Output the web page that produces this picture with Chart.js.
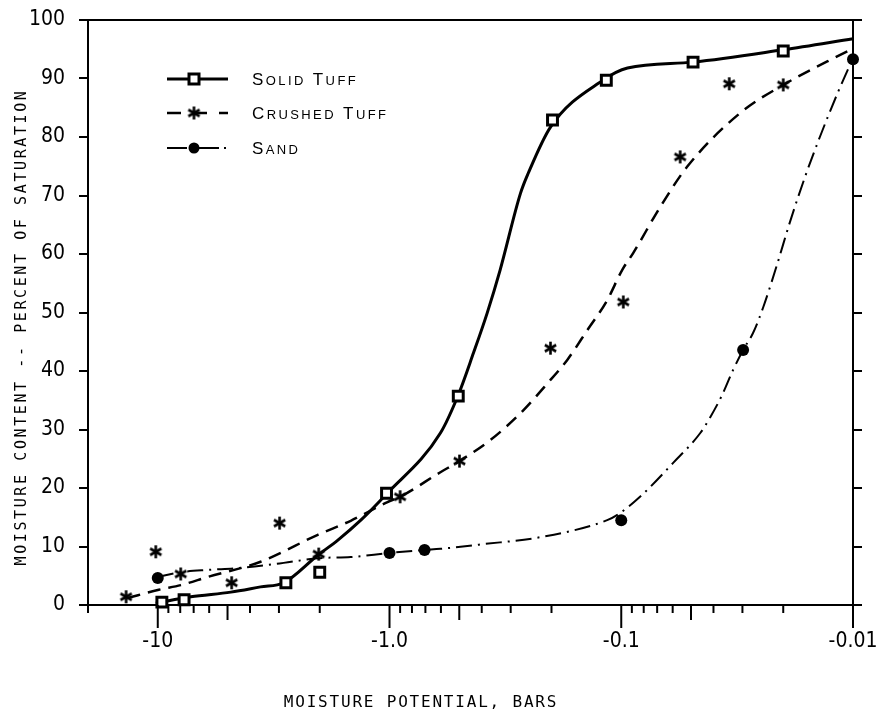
<!DOCTYPE html>
<html>
<head>
<meta charset="utf-8">
<script src="https://cdn.jsdelivr.net/npm/chart.js@4/dist/chart.umd.min.js"></script>
<style>
  html, body { margin: 0; padding: 0; background: #fff; }
  #wrap { width: 888px; height: 715px; position: relative; }
</style>
</head>
<body>
<div id="wrap"><canvas id="chart"></canvas></div>
<script>
// measured points (moisture potential in bars, moisture content in % of saturation)
const solidPotential = [-9.6, -7.7, -2.8, -2.0, -1.03, -0.505, -0.198, -0.116, -0.049, -0.020];
const solidMoisture  = [0.5, 0.9, 3.8, 5.6, 19.1, 35.7, 82.9, 89.7, 92.8, 94.7];

const crushedPotential = [-13.7, -10.2, -7.96, -4.8, -2.98, -2.02, -0.90, -0.499, -0.202, -0.098, -0.0557, -0.0342, -0.020];
const crushedMoisture  = [1.4, 9.1, 5.3, 3.8, 14.0, 8.7, 18.5, 24.6, 43.9, 51.8, 76.6, 89.1, 88.9];

const sandPotential = [-10, -1.0, -0.706, -0.1, -0.0298, -0.01];
const sandMoisture  = [4.6, 8.9, 9.4, 14.5, 43.6, 93.3];

// hand-fitted curves
const solidCurvePotential = [-10.2, -7.2, -4.84, -3.6, -2.86, -2.04, -1.67, -1.33, -1.04, -0.603, -0.505, -0.434, -0.379, -0.333, -0.272, -0.252, -0.202, -0.120, -0.094, -0.049, -0.020, -0.01];
const solidCurveMoisture  = [0.3, 1.4, 2.2, 3.1, 3.8, 8.5, 11.1, 14.5, 18.8, 29.4, 35.9, 43.1, 49.9, 57.3, 70.4, 73.8, 81.7, 89.7, 91.8, 92.8, 94.9, 96.8];

const crushedCurvePotential = [-13.5, -9.9, -7.96, -6.08, -3.6, -2.04, -1.47, -1.02, -0.90, -0.603, -0.499, -0.367, -0.272, -0.208, -0.171, -0.140, -0.115, -0.099, -0.0887, -0.068, -0.052, -0.0307, -0.020, -0.0103];
const crushedCurveMoisture  = [1.2, 2.6, 3.4, 4.8, 7.4, 12.0, 14.4, 17.6, 18.5, 22.7, 24.6, 28.2, 32.8, 37.9, 41.9, 47.0, 52.1, 57.3, 60.2, 68.0, 74.9, 84.1, 88.9, 94.9];

const sandCurvePotential = [-10, -7.96, -6.08, -4.52, -2.86, -2.04, -1.47, -1.0, -0.713, -0.603, -0.394, -0.223, -0.115, -0.104, -0.083, -0.0597, -0.0456, -0.0413, -0.0367, -0.0329, -0.0298, -0.027, -0.0244, -0.0213, -0.0187, -0.0161, -0.0139, -0.0116, -0.01];
const sandCurveMoisture  = [4.8, 5.6, 6.0, 6.3, 7.2, 8.0, 8.2, 8.9, 9.4, 9.6, 10.4, 11.6, 14.5, 15.4, 18.5, 24.3, 29.4, 32.1, 35.9, 40.2, 43.6, 46.5, 50.9, 58.1, 65.5, 73.2, 80.0, 87.7, 93.5];

const seriesNames = ['Solid Tuff', 'Crushed Tuff', 'Sand'];

// x axis ticks
const xTicks = [-20, -10, -9, -8, -7, -6, -5, -4, -3, -2, -1, -0.9, -0.8, -0.7, -0.6, -0.5, -0.4, -0.3, -0.2,
  -0.1, -0.09, -0.08, -0.07, -0.06, -0.05, -0.04, -0.03, -0.02, -0.01];
const xDecades = [-10, -1, -0.1, -0.01];
const xDecadeLabels = ['-10', '-1.0', '-0.1', '-0.01'];
const yTicks = [0, 10, 20, 30, 40, 50, 60, 70, 80, 90, 100];

const xTitle = 'MOISTURE POTENTIAL, BARS';
const yTitle = 'MOISTURE CONTENT -- PERCENT OF SATURATION';

const toPts = (xs, ys) => xs.map((x, i) => ({ x: -x, y: ys[i] }));

// six-armed asterisk marker
function asterisk(size, lw) {
  const c = document.createElement('canvas');
  c.width = size; c.height = size;
  const g = c.getContext('2d');
  const r = size / 2 - 1;
  g.strokeStyle = '#000';
  g.lineWidth = lw;
  [90, 30, 150].forEach(a => {
    const t = a * Math.PI / 180;
    g.beginPath();
    g.moveTo(size / 2 - r * Math.cos(t), size / 2 - r * Math.sin(t));
    g.lineTo(size / 2 + r * Math.cos(t), size / 2 + r * Math.sin(t));
    g.stroke();
  });
  return c;
}
const star = asterisk(15, 2.6);

const tickFont = { family: "'DejaVu Sans Condensed', 'Liberation Sans Narrow', sans-serif", size: 21 };

const frameAndText = {
  id: 'frameAndText',
  afterDraw(chart) {
    const { ctx, chartArea: a, scales } = chart;
    const xs = scales.x;
    ctx.save();
    ctx.strokeStyle = '#000';
    ctx.fillStyle = '#000';

    // top edge
    ctx.lineWidth = 2;
    ctx.beginPath();
    ctx.moveTo(a.left - 1, a.top);
    ctx.lineTo(a.right + 1, a.top);
    ctx.stroke();

    // x tick marks: long at decades, medium at 5s, short otherwise
    xTicks.forEach(v => {
      const px = xs.getPixelForValue(-v);
      const m = Math.round(-v / Math.pow(10, Math.floor(Math.log10(-v) + 1e-9)));
      const len = m === 1 && v !== -20 ? 23 : (m === 5 ? 15 : 8);
      ctx.beginPath();
      ctx.moveTo(px, a.bottom);
      ctx.lineTo(px, a.bottom + len);
      ctx.stroke();
    });

    // axis titles
    ctx.font = "16px 'DejaVu Sans Mono', monospace";
    ctx.letterSpacing = '1.8px';
    ctx.textAlign = 'center';
    ctx.textBaseline = 'middle';
    ctx.fillText(xTitle, 421, 703);

    ctx.save();
    ctx.translate(22, 327);
    ctx.rotate(-Math.PI / 2);
    ctx.font = "15px 'DejaVu Sans Mono', monospace";
    ctx.letterSpacing = '2.6px';
    ctx.fillText(yTitle, 0, 0);
    ctx.restore();

    // legend
    ctx.letterSpacing = '0px';
    const rows = [79, 113, 148];
    const sx0 = 167, sx1 = 228, mx = 194;
    rows.forEach((y, i) => {
      ctx.beginPath();
      if (i === 0) {
        ctx.lineWidth = 3;
        ctx.setLineDash([]);
      } else if (i === 1) {
        ctx.lineWidth = 2.5;
        ctx.setLineDash([14, 12]);
      } else {
        ctx.lineWidth = 2;
        ctx.setLineDash([20, 5, 2, 5]);
      }
      ctx.moveTo(sx0, y); ctx.lineTo(sx1, y);
      ctx.stroke();
      ctx.setLineDash([]);
      if (i === 0) {
        ctx.fillStyle = '#fff';
        ctx.fillRect(mx - 5, y - 5, 10, 10);
        ctx.lineWidth = 3;
        ctx.strokeRect(mx - 5, y - 5, 10, 10);
        ctx.fillStyle = '#000';
      } else if (i === 1) {
        ctx.drawImage(star, mx - star.width / 2, y - star.height / 2);
      } else {
        ctx.beginPath();
        ctx.arc(mx, y, 5.5, 0, Math.PI * 2);
        ctx.fill();
      }
      // small caps label
      let tx = 252;
      ctx.textAlign = 'left';
      ctx.textBaseline = 'alphabetic';
      ctx.letterSpacing = '2.4px';
      for (const ch of seriesNames[i]) {
        const big = ch === ch.toUpperCase();
        ctx.font = (big ? '17px' : '13px') + " 'Liberation Sans', sans-serif";
        ctx.fillText(ch.toUpperCase(), tx, y + 6);
        tx += ctx.measureText(ch.toUpperCase()).width;
      }
      ctx.letterSpacing = '0px';
    });
    ctx.restore();
  }
};

new Chart(document.getElementById('chart'), {
  type: 'scatter',
  data: {
    datasets: [
      { label: 'Solid Tuff', data: toPts(solidPotential, solidMoisture), pointStyle: 'rect', pointRadius: 7,
        pointBackgroundColor: '#fff', pointBorderColor: '#000', pointBorderWidth: 3, showLine: false, clip: false, order: 0 },
      { label: 'Crushed Tuff', data: toPts(crushedPotential, crushedMoisture), pointStyle: star, pointRadius: 7,
        showLine: false, clip: false, order: 0 },
      { label: 'Sand', data: toPts(sandPotential, sandMoisture), pointStyle: 'circle', pointRadius: 6,
        pointBackgroundColor: '#000', pointBorderColor: '#000', pointBorderWidth: 0, showLine: false, clip: false, order: 0 },
      { label: 'Solid Tuff curve', data: toPts(solidCurvePotential, solidCurveMoisture), showLine: true, pointRadius: 0,
        borderColor: '#000', borderWidth: 3, cubicInterpolationMode: 'monotone', clip: false, order: 1 },
      { label: 'Crushed Tuff curve', data: toPts(crushedCurvePotential, crushedCurveMoisture), showLine: true, pointRadius: 0,
        borderColor: '#000', borderWidth: 2.5, borderDash: [13, 8], cubicInterpolationMode: 'monotone', clip: false, order: 1 },
      { label: 'Sand curve', data: toPts(sandCurvePotential, sandCurveMoisture), showLine: true, pointRadius: 0,
        borderColor: '#000', borderWidth: 2, borderDash: [16, 6, 2, 6], cubicInterpolationMode: 'monotone', clip: false, order: 1 }
    ]
  },
  options: {
    responsive: true,
    maintainAspectRatio: false,
    animation: false,
    layout: { padding: { top: 20, left: 0, right: 0, bottom: 0 } },
    plugins: { legend: { display: false }, tooltip: { enabled: false } },
    scales: {
      x: {
        type: 'logarithmic',
        reverse: true,
        min: 0.01,
        max: 20,
        afterBuildTicks: s => { s.ticks = xTicks.map(v => ({ value: -v })); },
        afterFit: s => { s.height = 110; s.paddingLeft = 0; s.paddingRight = 0; },
        grid: { display: false },
        border: { display: true, color: '#000', width: 2 },
        ticks: {
          autoSkip: false, maxRotation: 0, minRotation: 0, color: '#000', font: tickFont, padding: 16,
          callback: v => {
            const i = xDecades.findIndex(d => Math.abs(-d - v) < 1e-9);
            return i >= 0 ? xDecadeLabels[i] : '';
          }
        }
      },
      y: {
        position: 'left',
        min: 0,
        max: 100,
        afterBuildTicks: s => { s.ticks = yTicks.map(v => ({ value: v })); },
        afterFit: s => { s.width = 88; s.paddingTop = 0; s.paddingBottom = 0; },
        grid: { drawOnChartArea: false, drawTicks: true, tickLength: 9, color: '#000', lineWidth: 2 },
        border: { display: true, color: '#000', width: 2 },
        ticks: { color: '#000', font: tickFont, padding: 14 }
      },
      y2: {
        position: 'right',
        min: 0,
        max: 100,
        afterBuildTicks: s => { s.ticks = yTicks.map(v => ({ value: v })); },
        afterFit: s => { s.width = 35; s.paddingTop = 0; s.paddingBottom = 0; },
        grid: { drawOnChartArea: false, drawTicks: true, tickLength: 9, color: '#000', lineWidth: 2 },
        border: { display: true, color: '#000', width: 2 },
        ticks: { display: false }
      }
    }
  },
  plugins: [frameAndText]
});
</script>
</body>
</html>
